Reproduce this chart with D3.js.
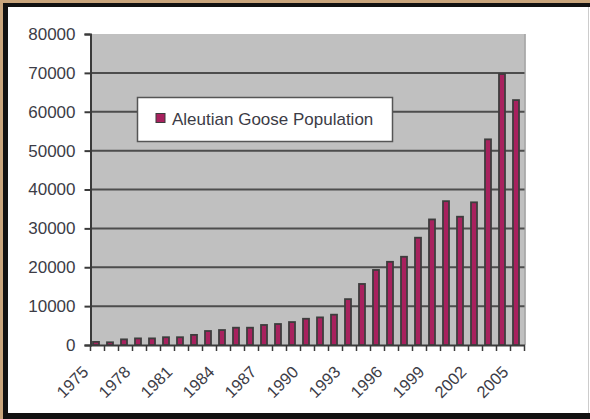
<!DOCTYPE html>
<html><head><meta charset="utf-8">
<script src="https://d3js.org/d3.v7.min.js"></script>
<style>html,body{margin:0;padding:0;background:#c9a57c;}svg{display:block;}</style>
</head><body>
<script>
const years = d3.range(1975, 2006).map(String);
const population = [800, 700, 1450, 1700, 1700, 2000, 2000, 2600, 3600, 3850,
  4450, 4450, 5150, 5400, 5900, 6750, 7100, 7800, 11800, 15700,
  19300, 21400, 22700, 27600, 32300, 37000, 33000, 36700, 52900, 69700, 63000];
const yTicks = [0, 10000, 20000, 30000, 40000, 50000, 60000, 70000, 80000];
const xLabelYears = ["1975","1978","1981","1984","1987","1990","1993","1996","1999","2002","2005"];
const seriesName = "Aleutian Goose Population";

const W = 590, H = 419;
const svg = d3.select("body").append("svg").attr("width", W).attr("height", H);
// frame
svg.append("rect").attr("x",0).attr("y",0).attr("width",W).attr("height",H).attr("fill","#c9a57c");
svg.append("rect").attr("x",3).attr("y",3).attr("width",W-3).attr("height",H-3).attr("fill","#111");
svg.append("rect").attr("x",8).attr("y",7).attr("width",W-8).attr("height",413-7).attr("fill","#fff");
svg.append("line").attr("x1",588.5).attr("x2",588.5).attr("y1",7).attr("y2",413).attr("stroke","#ccc").attr("stroke-width",1);

const L = 90.5, R = 524.5, T = 34, B = 345;
const x = d3.scaleBand().domain(years).range([L, R]);
const y = d3.scaleLinear().domain([0, 80000]).range([B, T]);

svg.append("rect").attr("x",L).attr("y",T).attr("width",R-L).attr("height",B-T).attr("fill","#c0c0c0");
svg.append("line").attr("x1",R+0.5).attr("x2",R+0.5).attr("y1",T).attr("y2",B).attr("stroke","#9a9a9a").attr("stroke-width",1.5);

// gridlines
svg.append("g").selectAll("line").data(yTicks.filter(d => d > 0 && d < 80000)).join("line")
  .attr("x1", L).attr("x2", R).attr("y1", d => y(d)).attr("y2", d => y(d))
  .attr("stroke","#4d4d4d").attr("stroke-width",2);

// y axis
const yAxis = svg.append("g").attr("transform",`translate(${L},0)`)
  .call(d3.axisLeft(y).tickValues(yTicks).tickFormat(d3.format("d")).tickSize(6).tickPadding(9));
yAxis.select(".domain").attr("stroke","#3a3a3a").attr("stroke-width",2);
yAxis.selectAll(".tick line").attr("stroke","#3a3a3a").attr("stroke-width",2);
yAxis.selectAll("text").attr("font-family","Liberation Sans, Arial, sans-serif").attr("font-size",17).attr("fill","#3c3c46");

// x axis
const xAxis = svg.append("g").attr("transform",`translate(0,${B})`)
  .call(d3.axisBottom(x).tickSize(0).tickFormat(""));
xAxis.select(".domain").attr("stroke","#3a3a3a").attr("stroke-width",2);
svg.append("g").selectAll("line").data(years.concat(["end"])).join("line")
  .attr("x1",(d,i)=> L + i*x.bandwidth()).attr("x2",(d,i)=> L + i*x.bandwidth())
  .attr("y1",B).attr("y2",B+6).attr("stroke","#3a3a3a").attr("stroke-width",1.5);

svg.append("g").selectAll("text").data(xLabelYears).join("text")
  .attr("transform", d => `translate(${x(d) + x.bandwidth()/2 - 8},373) rotate(-45)`)
  .attr("text-anchor","end")
  .attr("font-family","Liberation Sans, Arial, sans-serif").attr("font-size",16.5).attr("fill","#3c3c46")
  .text(d => d);

// bars
const bw = 6;
svg.append("g").selectAll("rect").data(years).join("rect")
  .attr("x", (d) => x(d) + x.bandwidth()/2 - 4.5)
  .attr("y", (d,i) => y(population[i]))
  .attr("width", bw)
  .attr("height", (d,i) => B - y(population[i]))
  .attr("fill","#a8215e").attr("stroke","#3d3d3d").attr("stroke-width",1.8);

// legend
const lg = svg.append("g");
lg.append("rect").attr("x",137.5).attr("y",97.5).attr("width",255).attr("height",44)
  .attr("fill","#fff").attr("stroke","#555").attr("stroke-width",1.5);
lg.append("rect").attr("x",156).attr("y",113.5).attr("width",9).attr("height",9)
  .attr("fill","#a8215e").attr("stroke","#3d3d3d").attr("stroke-width",1);
lg.append("text").attr("x",172).attr("y",124.5)
  .attr("font-family","Liberation Sans, Arial, sans-serif").attr("font-size",17).attr("fill","#3c3c46")
  .text(seriesName);
</script>
</body></html>
